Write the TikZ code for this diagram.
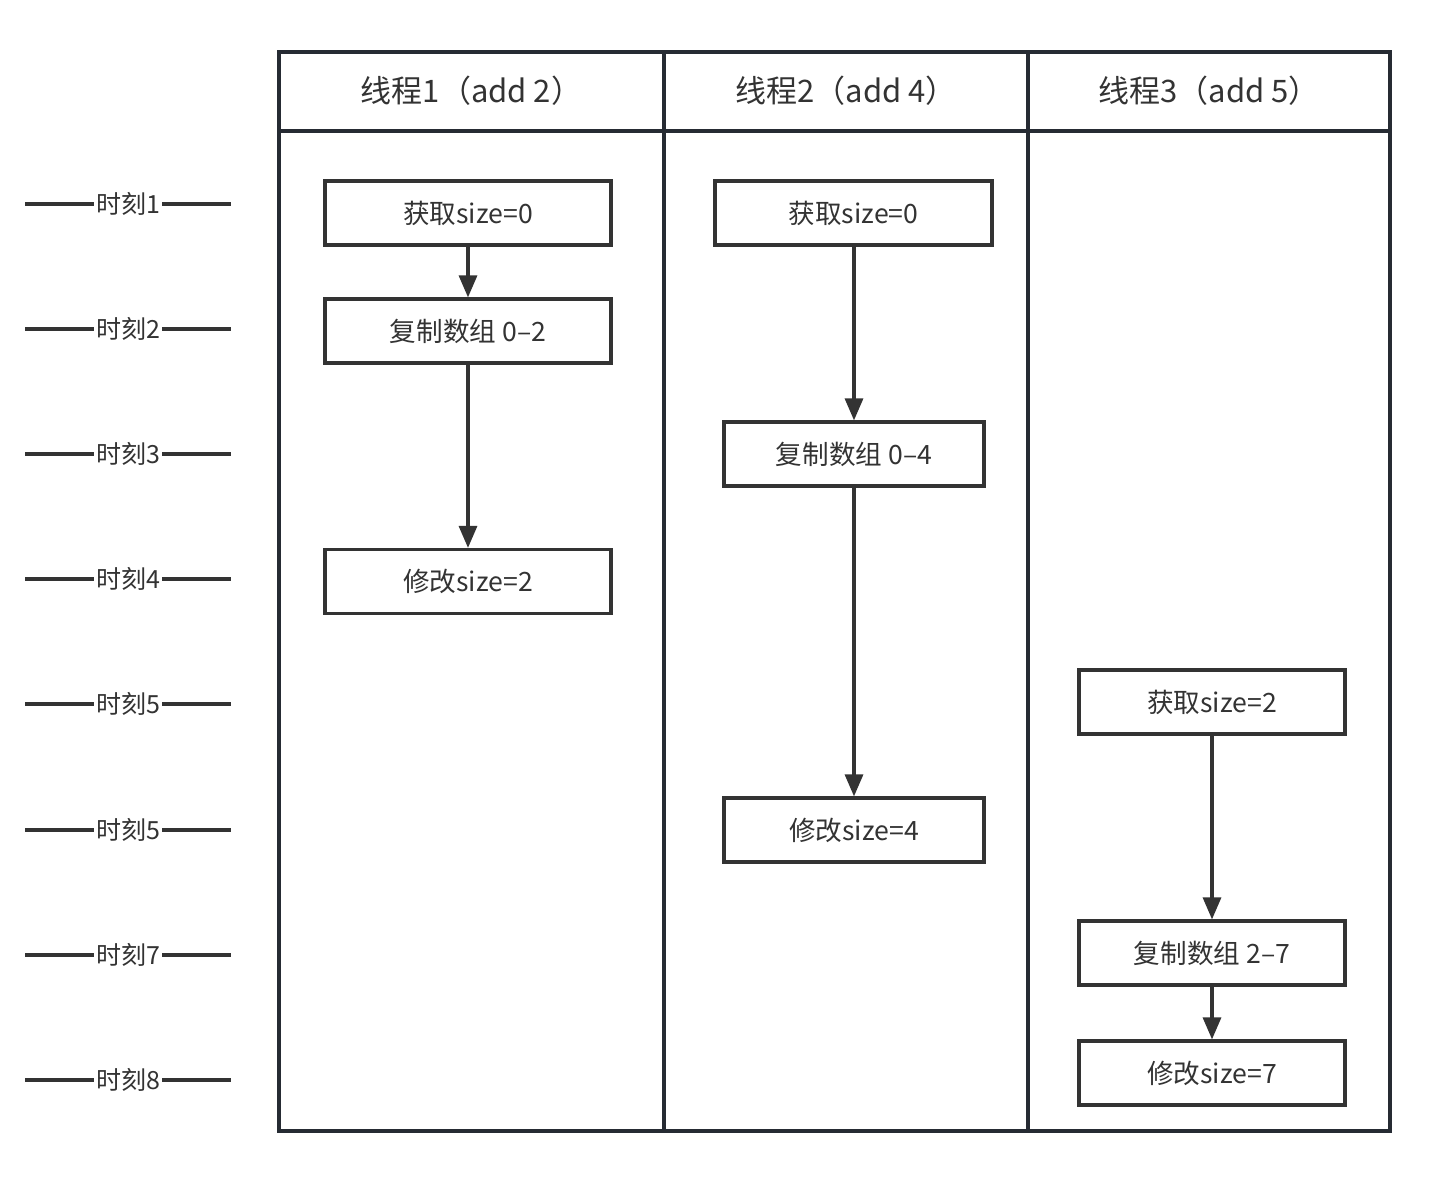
\documentclass[tikz,border=0pt]{standalone}
\usepackage{fontspec}
\setmainfont{Noto Sans CJK SC}
\usetikzlibrary{arrows.meta}
\definecolor{tabledark}{HTML}{262B33}
\definecolor{boxdark}{HTML}{333333}

\begin{document}
\begin{tikzpicture}[x=0.5pt, y=-0.5pt,
    tableline/.style={draw=tabledark, line width=1.7pt},
    headtext/.style={text=boxdark, font=\fontsize{15.5}{18}\selectfont},
    stepbox/.style={draw=boxdark, line width=1.6pt, fill=white, minimum height=32pt,
      inner sep=0pt, text=boxdark, font=\fontsize{13.3}{16}\selectfont},
    flow/.style={draw=boxdark, line width=1.6pt, -{Triangle[length=11pt, width=9pt]}},
    ticklabel/.style={fill=white, inner sep=1pt, text=boxdark, font=\fontsize{12.5}{15}\selectfont},
    tickline/.style={draw=boxdark, line width=1.6pt}]
    \useasboundingbox (0,0) rectangle (1434,1186);

    % Time axis on the left
    \foreach \y/\lab [count=\i] in {204/时刻1, 329/时刻2, 454/时刻3, 579/时刻4,
        704/时刻5, 830/时刻5, 955/时刻7, 1080/时刻8} {
      \node[ticklabel] (tick\i) at (128,\y) {\lab};
      \draw[tickline] (25,\y) -- (tick\i.west);
      \draw[tickline] (tick\i.east) -- (231,\y);
    }

    % Table with three thread columns
    \draw[tableline] (279,52) rectangle (1390,1131);
    \draw[tableline] (279,131) -- (1390,131);
    \draw[tableline] (664,52) -- (664,1131);
    \draw[tableline] (1028,52) -- (1028,1131);

    \node[headtext] (head1) at (471.5,91) {线程1（add 2）};
    \node[headtext] (head2) at (846,91) {线程2（add 4）};
    \node[headtext] (head3) at (1209,91) {线程3（add 5）};

    % Thread 1
    \node[stepbox, minimum width=143pt] (get1) at (468,213) {获取size=0};
    \node[stepbox, minimum width=143pt] (copy1) at (468,331) {复制数组 0–2};
    \node[stepbox, minimum width=143pt] (set1) at (468,581.5) {修改size=2};

    % Thread 2
    \node[stepbox, minimum width=138.5pt] (get2) at (853.5,213) {获取size=0};
    \node[stepbox, minimum width=130pt] (copy2) at (854,454) {复制数组 0–4};
    \node[stepbox, minimum width=130pt] (set2) at (854,830) {修改size=4};

    % Thread 3
    \node[stepbox, minimum width=133pt] (get3) at (1212,702) {获取size=2};
    \node[stepbox, minimum width=133pt] (copy3) at (1212,953) {复制数组 2–7};
    \node[stepbox, minimum width=133pt] (set3) at (1212,1073) {修改size=7};

    % Arrows
    \draw[flow] (get1) -- (copy1);
    \draw[flow] (copy1) -- (set1);
    \draw[flow] (get2.south -| copy2.north) -- (copy2);
    \draw[flow] (copy2) -- (set2);
    \draw[flow] (get3) -- (copy3);
    \draw[flow] (copy3) -- (set3);
  \end{tikzpicture}
\end{document}
